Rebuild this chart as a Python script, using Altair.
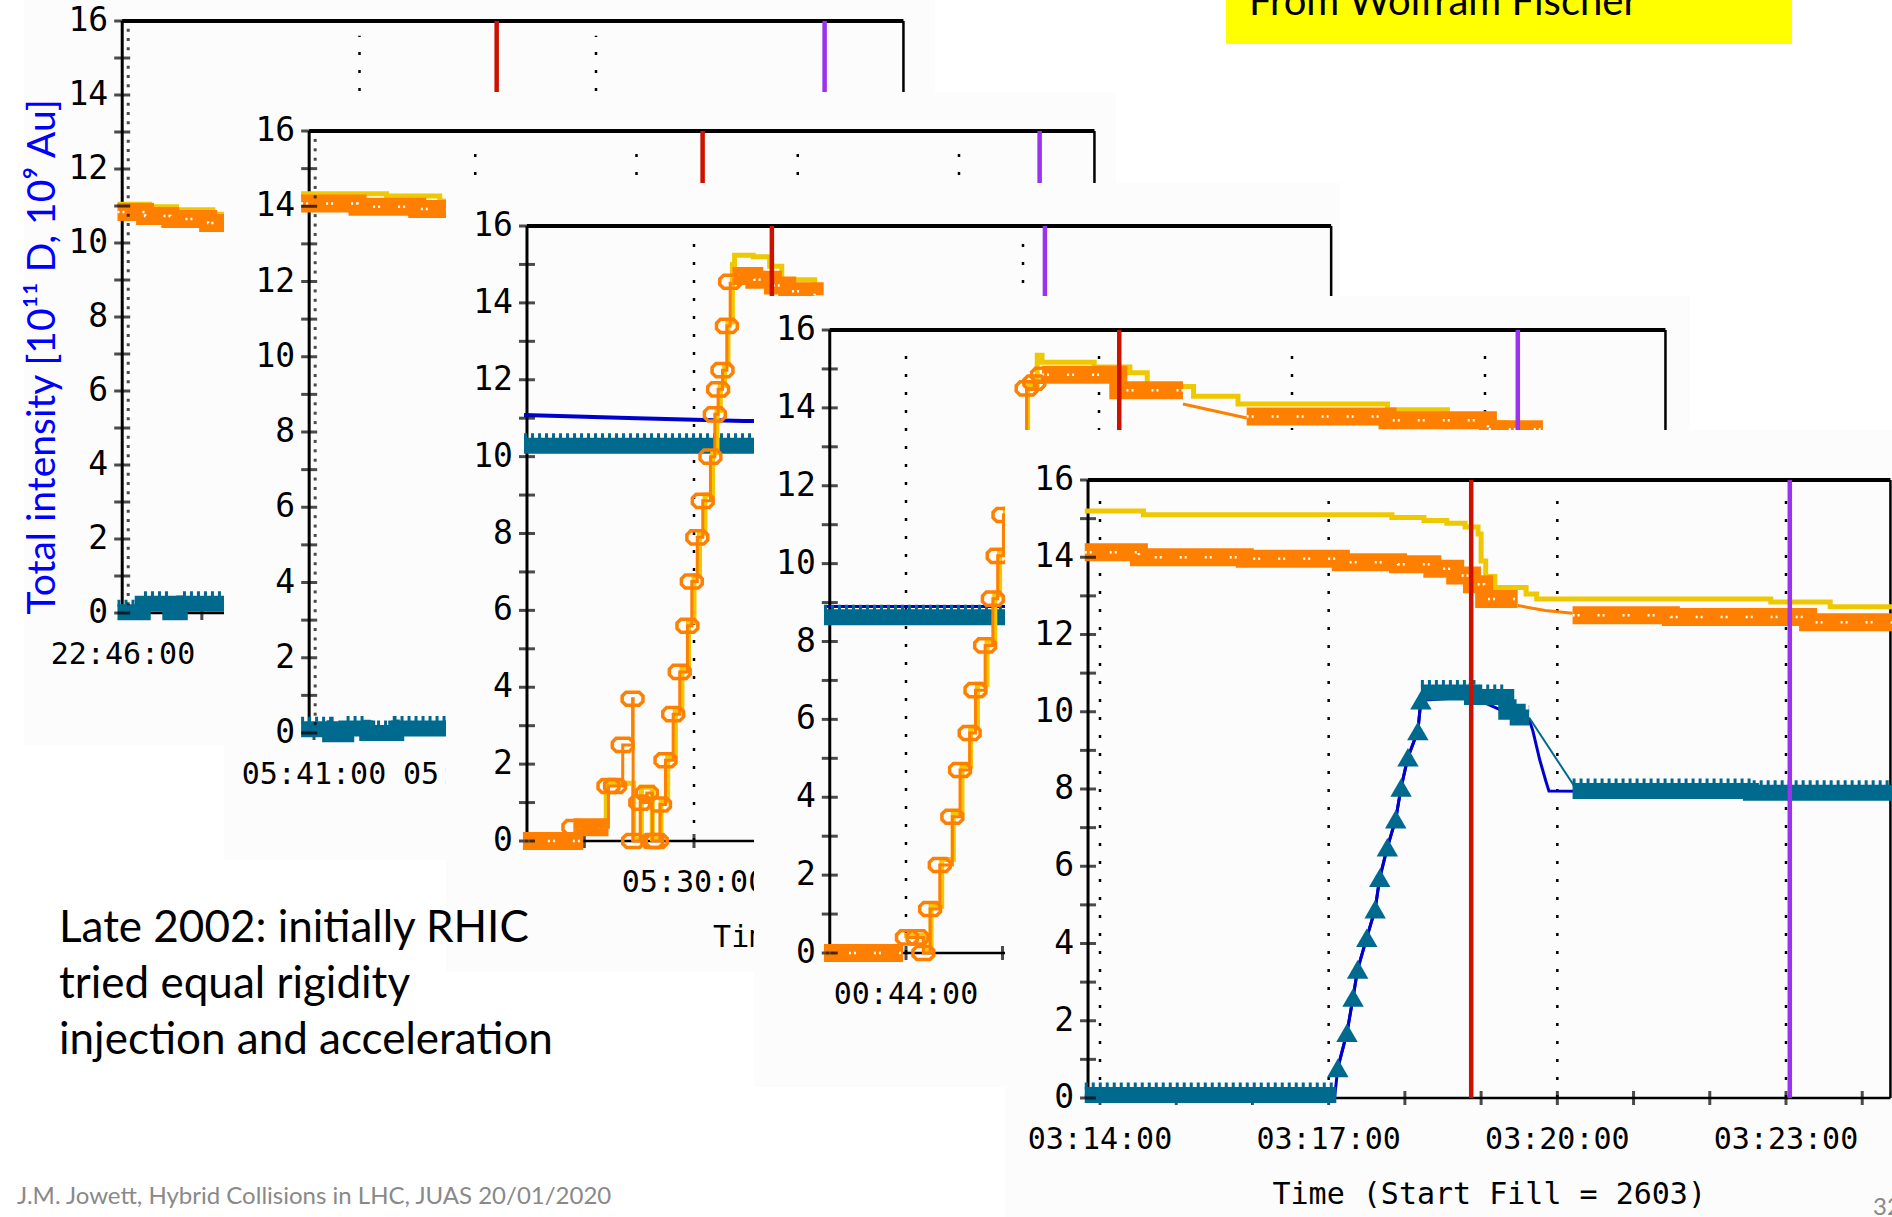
import altair as alt
import pandas as pd

# ------------------------------------------------------------------ slide text
NOTE = ["Late 2002: initially RHIC", "tried equal rigidity", "injection and acceleration"]
FOOTER = "J.M. Jowett, Hybrid Collisions in LHC, JUAS 20/01/2020"
CREDIT = "From Wolfram Fischer"
PAGE_NO = "32"
Y_TITLE = "Total intensity [10\u00b9\u00b9 D, 10\u2079 Au]"
X_TITLE = "Time (Start Fill = 2603)"

# trace colours of the intensity logger
ORANGE = "#ff8000"
YELLOW = "#eec800"
TEAL = "#006a8e"
BLUE = "#0000cc"
RED = "#cc1100"
PURPLE = "#9933ee"
PANEL_BG = "#fcfcfc"
TICK_FONT = "DejaVu Sans Mono"
SLIDE_FONT = "Lato"

# ------------------------------------------------------------------ data
# time in minutes past the hour, intensity in axis units
# panel 1 : fill starting 22:46
p1_yellow = [(45.93, 11.05), (46.34, 10.98), (46.68, 10.90), (47.14, 10.78), (47.60, 10.78)]
p1_orange_band = [[(45.93, 10.84), (46.28, 10.73), (46.60, 10.65), (47.08, 10.54), (47.60, 10.54)]]
p1_teal_band = [[(45.93, 0.02), (46.25, 0.25), (46.60, 0.02), (46.72, 0.25), (47.60, 0.25)]]

# panel 2 : fill starting 05:41
p2_yellow = [(40.92, 14.33), (41.45, 14.27), (41.78, 14.14), (42.10, 14.14)]
p2_orange_band = [[(40.92, 14.07), (41.27, 13.99), (41.64, 13.93), (42.10, 13.93)]]
p2_teal_band = [[(40.92, 0.10), (41.10, -0.03), (41.20, 0.12), (41.33, 0.00), (41.51, 0.12), (42.10, 0.12)]]

# panel 3 : fill around 05:30
p3_blue = [(28.45, 11.08), (29.48, 11.00), (30.45, 10.93), (31.20, 10.93)]
p3_teal_band = [[(28.45, 10.28), (31.20, 10.28)]]
p3_yellow = [(28.45, 0.05), (28.93, 0.42), (29.20, 1.50), (29.45, 0.05), (29.52, 1.40), (29.62, 0.05),
             (29.70, 1.05), (29.76, 2.20), (29.83, 3.40), (29.89, 4.50), (29.95, 5.70), (30.00, 6.90),
             (30.05, 8.00), (30.10, 9.00), (30.17, 10.10), (30.21, 11.20), (30.24, 11.85), (30.28, 12.40),
             (30.31, 13.50), (30.35, 15.00), (30.37, 15.24), (30.54, 15.20), (30.69, 14.95), (30.80, 14.60),
             (31.10, 14.40)]
p3_orange_band = [[(28.44, 0.00), (28.99, 0.00)], [(28.90, 0.36), (29.22, 0.36)],
                  [(30.35, 14.70), (30.55, 14.60), (30.72, 14.45), (30.85, 14.30), (31.10, 14.20)]]
p3_orange = [(28.90, 0.36), (29.22, 1.43), (29.28, 1.43), (29.35, 2.50), (29.44, 3.70), (29.445, 0.00),
             (29.51, 1.00), (29.57, 1.25), (29.62, 0.00), (29.66, 0.00), (29.69, 0.95), (29.74, 2.10),
             (29.81, 3.30), (29.87, 4.40), (29.94, 5.60), (29.98, 6.75), (30.03, 7.90), (30.08, 8.85),
             (30.15, 10.00), (30.19, 11.10), (30.22, 11.75), (30.26, 12.25), (30.30, 13.40), (30.33, 14.55)]

# panel 4 : fill starting 00:44
p4_blue = [(43.15, 8.90), (45.60, 8.90)]
p4_teal_band = [[(43.15, 8.62), (45.60, 8.62)]]
p4_yellow = [(43.98, 0.45), (44.19, 0.05), (44.26, 1.20), (44.37, 2.40), (44.49, 3.60), (44.58, 4.80),
             (44.67, 5.80), (44.74, 6.90), (44.84, 8.00), (44.92, 9.20), (44.97, 10.30), (45.03, 11.40),
             (45.26, 14.60), (45.36, 15.35), (45.41, 15.17), (45.95, 15.05), (46.32, 14.90), (46.50, 14.55),
             (46.98, 14.30), (47.44, 14.10), (48.99, 13.95), (49.61, 13.80), (49.91, 13.62), (50.21, 13.45),
             (50.60, 13.45)]
p4_orange_band = [[(43.15, 0.00), (43.97, 0.00)],
                  [(45.41, 14.85), (46.20, 14.45), (46.87, 14.45)],
                  [(47.53, 13.78), (48.99, 13.68), (50.03, 13.45), (50.60, 13.45)]]
p4_orange_thin = [(46.87, 14.10), (47.53, 13.74)]
p4_orange = [(44.01, 0.40), (44.12, 0.40), (44.18, 0.00), (44.25, 1.13), (44.35, 2.26), (44.48, 3.50),
             (44.56, 4.70), (44.66, 5.65), (44.72, 6.75), (44.82, 7.90), (44.90, 9.10), (44.95, 10.20),
             (45.01, 11.25), (45.25, 14.50), (45.33, 14.65), (45.41, 14.85)]

# panel 5 : fill 2603, 03:14 - 03:24
p5_blue = [(13.80, 0.05), (17.08, 0.05), (17.12, 0.78), (17.24, 1.69), (17.32, 2.60), (17.38, 3.33),
           (17.50, 4.15), (17.61, 4.89), (17.67, 5.70), (17.77, 6.49), (17.88, 7.22), (17.95, 8.04),
           (18.04, 8.82), (18.17, 9.50), (18.21, 10.30), (18.88, 10.38), (19.48, 9.85), (19.63, 9.80),
           (19.68, 9.50), (19.77, 8.75), (19.85, 8.20), (19.89, 7.95), (24.45, 7.90)]
p5_teal_band = [[(13.80, 0.08), (17.10, 0.08)],
                [(18.21, 10.50), (18.88, 10.38), (19.33, 10.00), (19.48, 9.85), (19.63, 9.85)],
                [(20.20, 7.95), (22.54, 7.90), (24.45, 7.90)]]
p5_teal_thin = [(19.63, 9.85), (20.23, 8.05)]
p5_teal_marks = [(17.12, 0.78), (17.24, 1.69), (17.32, 2.60), (17.38, 3.33), (17.50, 4.15), (17.61, 4.89),
                 (17.67, 5.70), (17.77, 6.49), (17.88, 7.22), (17.95, 8.04), (18.04, 8.82), (18.17, 9.50),
                 (18.21, 10.30)]
p5_yellow = [(13.80, 15.20), (14.57, 15.10), (17.83, 15.03), (18.25, 14.95), (18.55, 14.88), (18.79, 14.78),
             (18.96, 14.60), (19.00, 13.90), (19.06, 13.50), (19.18, 13.22), (19.59, 13.05), (19.73, 12.92),
             (22.80, 12.84), (23.58, 12.72), (24.45, 12.72)]
p5_orange_band = [[(13.80, 14.13), (14.51, 14.00), (15.90, 13.96), (17.16, 13.87), (17.91, 13.82),
                   (18.36, 13.70), (18.66, 13.53), (18.88, 13.30), (19.04, 12.92), (19.48, 12.92)],
                  [(20.20, 12.50), (21.49, 12.45), (23.29, 12.32), (24.45, 12.32)]]
p5_orange_thin = [(19.48, 12.75), (19.84, 12.62), (20.20, 12.55)]

# ------------------------------------------------------------------ panel layout
# each logger screenshot sits at its own place on the slide; the time scale of
# every panel is pinned by two reference times and their pixel positions
PANELS = [
    dict(box=(24, 0, 935, 745), t_ref=(46, 52), px_ref=(123, 596), y_px=(613, 21),
         t_axis=45.99, t_right=55.9, grid=[49, 52], red=50.74, purple=54.90,
         xticks=list(range(46, 56)), xlabels=[(46, "22:46:00")], minor=True, title=None, blue_w=3,
         data=dict(yellow=p1_yellow, orange_band=p1_orange_band, teal_band=p1_teal_band)),
    dict(box=(224, 92, 1116, 860), t_ref=(41, 45), px_ref=(314, 959), y_px=(733, 131),
         t_axis=40.97, t_right=45.84, grid=[42, 43, 44, 45], red=43.41, purple=45.50,
         xticks=list(range(41, 46)), xlabels=[(41, "05:41:00"), (42, "05:42:00")], minor=True, title=None,
         blue_w=3,
         data=dict(yellow=p2_yellow, orange_band=p2_orange_band, teal_band=p2_teal_band)),
    dict(box=(446, 183, 1340, 972), t_ref=(30, 33), px_ref=(694, 1023), y_px=(841, 226),
         t_axis=28.477, t_right=35.81, grid=[30, 33], red=30.71, purple=33.20,
         xticks=list(range(29, 36)), xlabels=[(30, "05:30:00")], minor=False, title="short", blue_w=4,
         data=dict(blue=p3_blue, teal_band=p3_teal_band, yellow=p3_yellow,
                   orange_band=p3_orange_band, orange=p3_orange)),
    dict(box=(754, 296, 1690, 1087), t_ref=(44, 50), px_ref=(906, 1485), y_px=(953, 330),
         t_axis=43.21, t_right=51.87, grid=[44, 46, 48, 50], red=46.21, purple=50.34,
         xticks=list(range(44, 52)), xlabels=[(44, "00:44:00")], minor=False, title=None, blue_w=3,
         data=dict(blue=p4_blue, teal_band=p4_teal_band, yellow=p4_yellow,
                   orange_band=p4_orange_band, orange_thin=p4_orange_thin, orange=p4_orange)),
    dict(box=(1005, 430, 1892, 1217), t_ref=(14, 23), px_ref=(1100, 1786), y_px=(1098, 480),
         t_axis=13.843, t_right=24.37, grid=[14, 17, 20, 23], red=18.87, purple=23.05,
         xticks=list(range(14, 25)),
         xlabels=[(14, "03:14:00"), (17, "03:17:00"), (20, "03:20:00"), (23, "03:23:00")],
         minor=False, title="full", blue_w=3,
         data=dict(blue=p5_blue, teal_band=p5_teal_band, teal_thin=p5_teal_thin, teal_marks=p5_teal_marks,
                   yellow=p5_yellow, orange_band=p5_orange_band, orange_thin=p5_orange_thin)),
]

# open "(o)" marker of the orange trace
ORANGE_MARKER = "M-0.6,-0.6 L0.6,-0.6 L0.95,-0.25 L0.95,0.25 L0.6,0.6 L-0.6,0.6 L-0.95,0.25 L-0.95,-0.25 Z"

ONE = pd.DataFrame({"k": [0]})


def series_df(points, seg=0):
    return pd.DataFrame({"t": [p[0] for p in points], "v": [p[1] for p in points],
                         "i": list(range(len(points))), "seg": seg})


def segs_df(segments):
    return pd.concat([series_df(s, k) for k, s in enumerate(segments)], ignore_index=True)


def build_panel(cfg):
    sx = alt.Scale(domain=list(cfg["t_ref"]), range=list(cfg["px_ref"]), zero=False, nice=False)
    sy = alt.Scale(domain=[0, 16], range=list(cfg["y_px"]), zero=False, nice=False)

    def X(f="t"):
        return alt.X(f"{f}:Q", scale=sx, axis=None)

    def Y(f="v"):
        return alt.Y(f"{f}:Q", scale=sy, axis=None)

    d = cfg["data"]
    ta, tr = cfg["t_axis"], cfg["t_right"]
    x0, y0, x1, y1 = cfg["box"]
    layers = []

    # screenshot background
    layers.append(alt.Chart(ONE).mark_rect(color=PANEL_BG).encode(
        x=alt.value(x0), x2=alt.value(x1), y=alt.value(y0), y2=alt.value(y1)))

    # dotted time grid
    grid = pd.DataFrame({"t": cfg["grid"], "v": 0.0, "v2": 15.6})
    layers.append(alt.Chart(grid).mark_rule(color="black", strokeWidth=2.5, strokeDash=[3, 15]).encode(
        x=X(), y=Y(), y2="v2:Q"))

    # plot frame
    frame = pd.DataFrame([
        dict(t=ta, t2=tr, v=16, v2=16, w=4.0),
        dict(t=tr, t2=tr, v=0, v2=16, w=2.5),
        dict(t=ta, t2=tr, v=0, v2=0, w=2.5),
        dict(t=ta, t2=ta, v=0, v2=16, w=3.0),
    ])
    layers.append(alt.Chart(frame).mark_rule(color="black").encode(
        x=X(), x2="t2:Q", y=Y(), y2="v2:Q", strokeWidth=alt.StrokeWidth("w:Q", scale=None)))

    # x ticks every minute
    xt = pd.DataFrame({"t": cfg["xticks"], "v": 0.0})
    layers.append(alt.Chart(xt).mark_tick(orient="vertical", size=14, thickness=3, color="black").encode(
        x=X(), y=Y()))

    def line(df, color, width, interp, **kw):
        return alt.Chart(df).mark_line(color=color, strokeWidth=width, interpolate=interp,
                                       **kw).encode(x=X(), y=Y(), detail="seg:N", order="i:Q")

    if "blue" in d:
        layers.append(line(series_df(d["blue"]), BLUE, cfg["blue_w"], "linear"))
    if "teal_band" in d:
        tb = segs_df(d["teal_band"])
        layers.append(line(tb, TEAL, 16, "step-after"))
        layers.append(line(tb, TEAL, 7, "step-after", strokeDash=[3, 4], yOffset=-9))
    if "teal_thin" in d:
        layers.append(line(series_df(d["teal_thin"]), TEAL, 2, "linear"))
    if "teal_marks" in d:
        layers.append(line(series_df(d["teal_marks"]), BLUE, 3, "linear"))
        layers.append(alt.Chart(series_df(d["teal_marks"])).mark_point(
            shape="triangle-up", filled=True, color=TEAL, size=460, opacity=1).encode(x=X(), y=Y()))
    if "yellow" in d:
        layers.append(line(series_df(d["yellow"]), YELLOW, 5, "step-after"))
    if "orange_band" in d:
        ob = segs_df(d["orange_band"])
        layers.append(line(ob, ORANGE, 18, "step-after"))
        layers.append(line(ob, "white", 2.5, "step-after", strokeDash=[2, 3, 2, 18]))
    if "orange_thin" in d:
        layers.append(line(series_df(d["orange_thin"]), ORANGE, 3, "linear"))
    if "orange" in d:
        od = series_df(d["orange"])
        layers.append(line(od, ORANGE, 3, "step-after"))
        layers.append(alt.Chart(od).mark_point(
            shape=ORANGE_MARKER, filled=False, color=ORANGE, strokeWidth=3.5, size=480, opacity=1).encode(
            x=X(), y=Y()))

    # injection / ramp markers
    vl = pd.DataFrame({"t": [cfg["red"], cfg["purple"]], "v": 0.0, "v2": 16.0, "c": [RED, PURPLE]})
    layers.append(alt.Chart(vl).mark_rule(strokeWidth=4.5).encode(
        x=X(), y=Y(), y2="v2:Q", color=alt.Color("c:N", scale=None)))

    # y axis ticks and labels
    major = pd.DataFrame({"t": ta, "v": list(range(17))})
    layers.append(alt.Chart(major).mark_tick(orient="horizontal", size=16, thickness=3, color="black").encode(
        x=X(), y=Y()))
    if cfg["minor"]:
        minor = pd.DataFrame({"t": ta, "v": [q / 4 for q in range(64) if q % 4]})
        layers.append(alt.Chart(minor).mark_tick(orient="horizontal", size=3, thickness=3, color="black",
                                                 xOffset=6).encode(x=X(), y=Y()))
    ylab = pd.DataFrame({"t": ta, "v": list(range(0, 17, 2))})
    ylab["s"] = ylab["v"].astype(str)
    layers.append(alt.Chart(ylab).mark_text(align="right", baseline="middle", dx=-14, font=TICK_FONT,
                                            fontSize=33, color="black").encode(x=X(), y=Y(), text="s:N"))

    # time labels
    xl = pd.DataFrame({"t": [a for a, _ in cfg["xlabels"]], "v": 0.0, "s": [b for _, b in cfg["xlabels"]]})
    layers.append(alt.Chart(xl).mark_text(align="center", baseline="middle", dy=42, font=TICK_FONT,
                                          fontSize=30, color="black").encode(x=X(), y=Y(), text="s:N"))

    # axis title
    mid = pd.DataFrame({"t": [(ta + tr) / 2], "v": [0.0]})
    if cfg["title"] == "full":
        layers.append(alt.Chart(mid).mark_text(align="center", baseline="middle", dy=97, font=TICK_FONT,
                                               fontSize=30, color="black", text=X_TITLE).encode(x=X(), y=Y()))
    elif cfg["title"] == "short":
        layers.append(alt.Chart(mid).mark_text(align="left", baseline="middle", dy=97, dx=-216,
                                               font=TICK_FONT, fontSize=30, color="black",
                                               text="Time").encode(x=X(), y=Y()))
    return alt.layer(*layers)


panels = [build_panel(c) for c in PANELS]

# slide annotations on top of the stacked panels
note = alt.Chart(ONE).mark_text(text=NOTE, font=SLIDE_FONT, fontSize=44, lineHeight=56, align="left",
                                baseline="alphabetic", color="black").encode(x=alt.value(59), y=alt.value(942))
ytitle = alt.Chart(ONE).mark_text(text=Y_TITLE, font=SLIDE_FONT, fontSize=39, angle=270, align="center",
                                  baseline="alphabetic", color="#0000ff").encode(x=alt.value(55), y=alt.value(357))
footer = alt.Chart(ONE).mark_text(text=FOOTER, font=SLIDE_FONT, fontSize=24, align="left",
                                  baseline="alphabetic", color="#898989").encode(x=alt.value(17), y=alt.value(1204))
page = alt.Chart(ONE).mark_text(text=PAGE_NO, font=SLIDE_FONT, fontSize=24, align="left",
                                baseline="alphabetic", color="#898989").encode(x=alt.value(1873), y=alt.value(1215))
credit_box = alt.Chart(ONE).mark_rect(color="#ffff00").encode(
    x=alt.value(1226), x2=alt.value(1792), y=alt.value(0), y2=alt.value(44))
credit = alt.Chart(ONE).mark_text(text=CREDIT, font=SLIDE_FONT, fontSize=40, align="left",
                                  baseline="alphabetic", color="black").encode(x=alt.value(1249), y=alt.value(15))

chart = alt.layer(*panels, note, ytitle, footer, page, credit_box, credit).resolve_scale(
    x="independent", y="independent"
).properties(
    width=1892, height=1217, padding=0, background="white",
    autosize=alt.AutoSizeParams(type="none"),
).configure_view(stroke=None)

chart.save("out.html", embed_options={"renderer": "svg", "actions": False})
